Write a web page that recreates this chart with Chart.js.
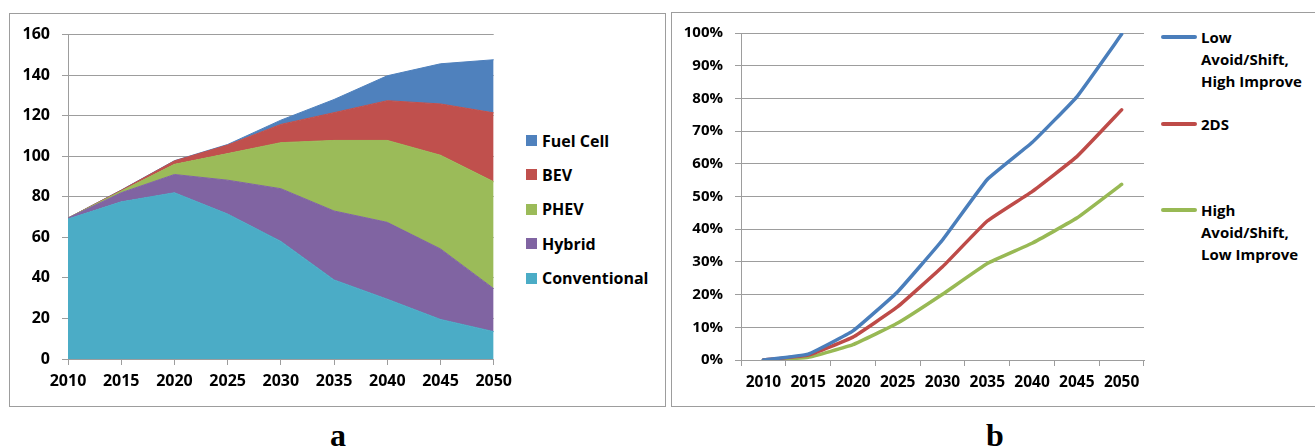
<!DOCTYPE html>
<html>
<head>
<meta charset="utf-8">
<script src="https://cdn.jsdelivr.net/npm/chart.js@4.4.1/dist/chart.umd.min.js"></script>
<style>
  html, body { margin: 0; padding: 0; background: #fff; }
  body { position: relative; width: 1315px; height: 448px; overflow: hidden; font-family: "Open Sans", Lato, sans-serif; }
  .box { position: absolute; border: 1px solid #9d9d9d; box-sizing: border-box; }
  canvas { position: absolute; }
  .leg { position: absolute; font-weight: bold; color: #000; }
  .leg .sq { position: absolute; width: 11px; height: 11px; }
  .leg .ln { position: absolute; height: 4px; border-radius: 2px; }
  .leg .tx { position: absolute; white-space: pre-line; }
  .cap { position: absolute; font-family: "Liberation Serif", "Times New Roman", serif; font-weight: bold; font-size: 32px; line-height: 1; }
</style>
</head>
<body>
<div class="box" style="left:9px;top:13px;width:657px;height:394px;"></div>
<div class="box" style="left:671px;top:12px;width:700px;height:395px;"></div>
<canvas id="chartA" width="510" height="394" style="left:9px;top:13px;"></canvas>
<canvas id="chartB" width="490" height="395" style="left:671px;top:12px;"></canvas>
<div id="legendA"></div>
<div id="legendB"></div>
<div class="cap" style="left:330px;top:419px;">a</div>
<div class="cap" style="left:986px;top:419px;">b</div>

<script>
// ---- data: panel a (vehicle stock by technology, stacked) ----
const years = ['2010', '2015', '2020', '2025', '2030', '2035', '2040', '2045', '2050'];
const conventional = [69, 77.5, 82, 71.5, 58, 39, 29.5, 19.5, 13.5];
const hybrid       = [0.5, 4.5, 9, 16.7, 26, 34, 37.9, 34.8, 21.2];
const phev         = [0, 0.8, 5, 13.1, 22.7, 34.8, 40.4, 46.2, 52.7];
const bev          = [0, 0.4, 1.7, 4.2, 9, 13.7, 19.6, 25.3, 34];
const fuelCell     = [0, 0.1, 0.1, 0.3, 2.1, 6.5, 12.3, 19.8, 26.2];
const yTicksA = { min: 0, max: 160, step: 20 };

// ---- data: panel b (share, scenarios) ----
const lowAvoidHighImprove = [0, 0.018, 0.089, 0.209, 0.367, 0.552, 0.665, 0.805, 0.996];
const twoDS               = [0, 0.015, 0.07, 0.163, 0.285, 0.425, 0.515, 0.622, 0.765];
const highAvoidLowImprove = [0, 0.008, 0.047, 0.113, 0.201, 0.295, 0.357, 0.434, 0.537];
const yTicksB = { min: 0, max: 1, step: 0.1 };

const GRID = '#9d9d9d';
const FONT = '"Open Sans"';

/* ---------- panel a ---------- */
const seriesA = [
  { label: 'Conventional', data: conventional, color: '#4bacc6' },
  { label: 'Hybrid',       data: hybrid,       color: '#8064a2' },
  { label: 'PHEV',         data: phev,         color: '#9bbb59' },
  { label: 'BEV',          data: bev,          color: '#c0504d' },
  { label: 'Fuel Cell',    data: fuelCell,     color: '#4f81bd' }
];

new Chart(document.getElementById('chartA'), {
  type: 'line',
  data: {
    labels: years,
    datasets: seriesA.map((s, i) => ({
      label: s.label,
      data: s.data,
      backgroundColor: s.color,
      borderColor: s.color,
      borderWidth: 1,
      pointRadius: 0,
      tension: 0,
      fill: i === 0 ? 'origin' : '-1'
    }))
  },
  options: {
    responsive: false,
    animation: false,
    layout: { padding: { left: 0, top: 20, right: 23, bottom: 0 } },
    plugins: { legend: { display: false }, tooltip: { enabled: false } },
    scales: {
      x: {
        offset: false,
        grid: { drawOnChartArea: false, color: GRID, tickLength: 6 },
        border: { color: GRID },
        ticks: { color: '#000', font: { family: FONT, weight: 'bold', size: 16 }, padding: 7, maxRotation: 0 },
        afterFit: s => { s.height = 48; }
      },
      y: {
        stacked: true,
        min: yTicksA.min, max: yTicksA.max,
        grid: { color: GRID, tickLength: 6 },
        border: { color: GRID },
        ticks: { stepSize: yTicksA.step, color: '#000', font: { family: FONT, weight: 'bold', size: 16 }, padding: 12 },
        afterFit: s => { s.width = 59; }
      }
    }
  }
});

// legend a (top item = last series, like Excel)
const legA = document.getElementById('legendA');
seriesA.slice().reverse().forEach((s, i) => {
  const y = 140.5 + i * 34.4;
  const d = document.createElement('div');
  d.className = 'leg';
  d.style.cssText = `left:526px;top:${y}px;font-size:16px;`;
  d.innerHTML = `<span class="sq" style="left:0;top:-5.5px;background:${s.color}"></span>` +
                `<span class="tx" style="left:16px;top:-11px;line-height:22px;white-space:nowrap">${s.label}</span>`;
  legA.appendChild(d);
});

/* ---------- panel b ---------- */
const seriesB = [
  { label: 'Low\nAvoid/Shift,\nHigh Improve', data: lowAvoidHighImprove, color: '#4a7ebb', ly: 37 },
  { label: '2DS',                             data: twoDS,               color: '#be4b48', ly: 123.5 },
  { label: 'High\nAvoid/Shift,\nLow Improve', data: highAvoidLowImprove, color: '#98b954', ly: 210 }
];

new Chart(document.getElementById('chartB'), {
  type: 'line',
  data: {
    labels: years,
    datasets: seriesB.map(s => ({
      label: s.label.replace(/\n/g, ' '),
      data: s.data,
      borderColor: s.color,
      backgroundColor: s.color,
      borderWidth: 3.5,
      borderCapStyle: 'round',
      pointRadius: 0,
      tension: 0.1,
      fill: false
    }))
  },
  options: {
    responsive: false,
    animation: false,
    layout: { padding: { left: 0, top: 20, right: 17, bottom: 0 } },
    plugins: { legend: { display: false }, tooltip: { enabled: false } },
    scales: {
      x: {
        offset: true,
        grid: { offset: true, drawOnChartArea: false, color: GRID, tickLength: 6 },
        border: { color: GRID },
        ticks: { color: '#000', font: { family: FONT, weight: 'bold', size: 15.5 }, padding: 7, maxRotation: 0 },
        afterFit: s => { s.height = 47; }
      },
      y: {
        min: yTicksB.min, max: yTicksB.max,
        grid: { color: GRID, tickLength: 6 },
        border: { color: GRID },
        ticks: {
          stepSize: yTicksB.step, color: '#000', font: { family: FONT, weight: 'bold', size: 15 }, padding: 12,
          callback: v => Math.round(v * 100) + '%'
        },
        afterFit: s => { s.width = 70; }
      }
    }
  }
});

const legB = document.getElementById('legendB');
seriesB.forEach(s => {
  const d = document.createElement('div');
  d.className = 'leg';
  d.style.cssText = `left:1161px;top:${s.ly}px;font-size:15px;`;
  d.innerHTML = `<span class="ln" style="left:0;top:-2px;width:36px;background:${s.color}"></span>` +
                `<span class="tx" style="left:40px;top:-11px;line-height:22px;white-space:pre">${s.label}</span>`;
  legB.appendChild(d);
});
</script>
</body>
</html>
